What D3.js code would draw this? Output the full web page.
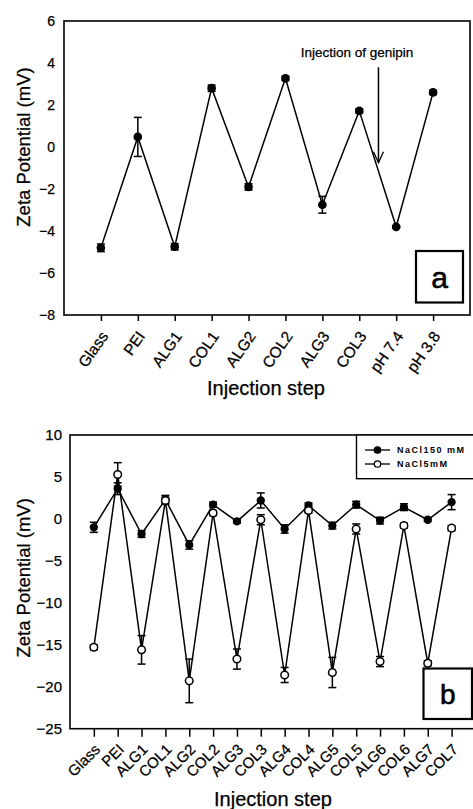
<!DOCTYPE html>
<html>
<head>
<meta charset="utf-8">
<script src="https://cdn.jsdelivr.net/npm/d3@7"></script>
<style>
  html, body { margin: 0; padding: 0; background: #fff; }
  svg { display: block; }
  text { font-family: "Liberation Sans", Arial, sans-serif; fill: #000; stroke: #000; stroke-width: 0.25px; }
</style>
</head>
<body>
<script>
// ---- Panel a: single series, genipin cross-linking ----
const stepsA = ["Glass", "PEI", "ALG1", "COL1", "ALG2", "COL2", "ALG3", "COL3", "pH 7.4", "pH 3.8"];
const zetaA  = [-4.8, 0.48, -4.75, 2.8, -1.9, 3.27, -2.75, 1.72, -3.8, 2.6];
const errA   = [0.18, 0.93, 0.15, 0.15, 0.15, 0.1, 0.4, 0.1, 0.05, 0.1];
const ticksA = [-8, -6, -4, -2, 0, 2, 4, 6];

// ---- Panel b: two ionic strengths ----
const stepsB = ["Glass", "PEI", "ALG1", "COL1", "ALG2", "COL2", "ALG3", "COL3",
                "ALG4", "COL4", "ALG5", "COL5", "ALG6", "COL6", "ALG7", "COL7"];
const nacl150   = [-1.0, 3.6, -1.8, 2.3, -3.1, 1.7, -0.3, 2.2, -1.2, 1.6, -0.8, 1.7, -0.2, 1.4, -0.1, 2.0];
const nacl150Err = [0.6, 0.7, 0.4, 0.5, 0.5, 0.3, 0.2, 0.9, 0.5, 0.3, 0.4, 0.4, 0.4, 0.4, 0.2, 0.9];
const nacl5     = [-15.3, 5.3, -15.6, 2.2, -19.3, 0.7, -16.7, -0.1, -18.6, 1.0, -18.3, -1.2, -17.0, -0.8, -17.2, -1.1];
const nacl5Err  = [0.3, 1.4, 1.7, 0.4, 2.6, 0.3, 1.2, 0.6, 0.9, 0.3, 1.8, 0.6, 0.6, 0.3, 0.3, 0.3];
const ticksB = [-25, -20, -15, -10, -5, 0, 5, 10];
const legendLabels = ["NaCl150 mM", "NaCl5mM"];

const W = 473, H = 809;
const svg = d3.select("body").append("svg").attr("width", W).attr("height", H);

function errorBars(g, xs, vals, errs, y, cap) {
  vals.forEach((v, i) => {
    const x = xs(i + 1);
    g.append("line").attr("x1", x).attr("x2", x)
      .attr("y1", y(v - errs[i])).attr("y2", y(v + errs[i]))
      .attr("stroke", "#000").attr("stroke-width", 1.5);
    [v - errs[i], v + errs[i]].forEach(e => {
      g.append("line").attr("x1", x - cap).attr("x2", x + cap)
        .attr("y1", y(e)).attr("y2", y(e))
        .attr("stroke", "#000").attr("stroke-width", 1.5);
    });
  });
}

function series(g, xs, vals, y, filled, r) {
  const line = d3.line().x((d, i) => xs(i + 1)).y(d => y(d));
  g.append("path").datum(vals).attr("d", line)
    .attr("fill", "none").attr("stroke", "#000").attr("stroke-width", 1.5);
  g.selectAll(null).data(vals).enter().append("circle")
    .attr("cx", (d, i) => xs(i + 1)).attr("cy", d => y(d)).attr("r", r)
    .attr("fill", filled ? "#000" : "#fff")
    .attr("stroke", "#000").attr("stroke-width", 1.5);
}

function labelBox(g, x0, y0, x1, y1, txt, size) {
  g.append("rect").attr("x", x0).attr("y", y0).attr("width", x1 - x0).attr("height", y1 - y0)
    .attr("fill", "#fff").attr("stroke", "#000").attr("stroke-width", 2.2);
  g.append("text").attr("x", (x0 + x1) / 2).attr("y", (y0 + y1) / 2)
    .attr("text-anchor", "middle").attr("dy", "0.36em")
    .style("font-size", size + "px").style("stroke-width", "0.6px").text(txt);
}

// ================= Panel a =================
{
  const L = 64, R = 470, T = 21, B = 315;
  const x = d3.scaleLinear().domain([0, stepsA.length + 1]).range([L, R]);
  const y = d3.scaleLinear().domain([-8, 6]).range([B, T]);
  const g = svg.append("g");

  g.append("rect").attr("x", L).attr("y", T).attr("width", R - L).attr("height", B - T)
    .attr("fill", "none").attr("stroke", "#000").attr("stroke-width", 1.6);

  // y axis
  const ya = g.append("g").attr("transform", `translate(${L},0)`)
    .call(d3.axisLeft(y).tickValues(ticksA).tickSize(0).tickPadding(9).tickFormat(d3.format("d")));
  ya.select(".domain").remove();
  ya.selectAll("text").style("font-size", "14px").style("font-family", "Liberation Sans, Arial, sans-serif");

  // x axis
  const xa = g.append("g").attr("transform", `translate(0,${B})`)
    .call(d3.axisBottom(x).tickValues(d3.range(1, stepsA.length + 1)).tickSize(6)
      .tickFormat(i => stepsA[i - 1]));
  xa.select(".domain").remove();
  xa.selectAll("line").attr("stroke-width", 1.5);
  xa.selectAll("text")
    .style("font-size", "15.5px").style("font-family", "Liberation Sans, Arial, sans-serif")
    .attr("text-anchor", "end").attr("x", 0).attr("y", 0).attr("dy", "0.35em")
    .attr("transform", "translate(3,18) rotate(-55)");

  g.append("text").attr("transform", `translate(30,${y(0)}) rotate(-90)`)
    .attr("text-anchor", "middle").style("font-size", "18.5px").text("Zeta Potential (mV)");
  g.append("text").attr("x", 266).attr("y", 395)
    .attr("text-anchor", "middle").style("font-size", "20px").text("Injection step");

  series(g, x, zetaA, y, true, 3.6);
  errorBars(g, x, zetaA, errA, y, 4);

  // genipin annotation
  const ax = x(8.52);
  g.append("text").attr("x", 357).attr("y", 56.5).attr("text-anchor", "middle")
    .style("font-size", "13.5px").text("Injection of genipin");
  g.append("line").attr("x1", ax).attr("x2", ax).attr("y1", y(3.8)).attr("y2", y(-0.75))
    .attr("stroke", "#000").attr("stroke-width", 1.5);
  g.append("path")
    .attr("d", `M${ax - 5},${y(-0.75) - 11} L${ax},${y(-0.75)} L${ax + 5},${y(-0.75) - 11}`)
    .attr("fill", "none").attr("stroke", "#000").attr("stroke-width", 1.3);

  labelBox(g, 416, 251, 463, 302.5, "a", 30);
}

// ================= Panel b =================
{
  const L = 70, T = 435, B = 728.7;
  const step = 23.85;
  const R = L + step * (stepsB.length + 1);
  const x = d3.scaleLinear().domain([0, stepsB.length + 1]).range([L, R]);
  const y = d3.scaleLinear().domain([-25, 10]).range([B, T]);
  const g = svg.append("g");

  g.append("rect").attr("x", L).attr("y", T).attr("width", R - L).attr("height", B - T)
    .attr("fill", "none").attr("stroke", "#000").attr("stroke-width", 1.6);

  const ya = g.append("g").attr("transform", `translate(${L},0)`)
    .call(d3.axisLeft(y).tickValues(ticksB).tickSize(0).tickPadding(8).tickFormat(d3.format("d")));
  ya.select(".domain").remove();
  ya.selectAll("text").style("font-size", "15px").style("font-family", "Liberation Sans, Arial, sans-serif");

  const xa = g.append("g").attr("transform", `translate(0,${B})`)
    .call(d3.axisBottom(x).tickValues(d3.range(1, stepsB.length + 1)).tickSize(8)
      .tickFormat(i => stepsB[i - 1]));
  xa.select(".domain").remove();
  xa.selectAll("line").attr("stroke-width", 1.5);
  xa.selectAll("text")
    .style("font-size", "15px").style("font-family", "Liberation Sans, Arial, sans-serif")
    .attr("text-anchor", "end").attr("x", 0).attr("y", 0).attr("dy", "0.35em")
    .attr("transform", "translate(3,18) rotate(-45)");

  g.append("text").attr("transform", `translate(30,${(T + B) / 2 - 4}) rotate(-90)`)
    .attr("text-anchor", "middle").style("font-size", "18.5px").text("Zeta Potential (mV)");
  g.append("text").attr("x", 273).attr("y", 806)
    .attr("text-anchor", "middle").style("font-size", "20px").text("Injection step");

  series(g, x, nacl150, y, true, 3.4);
  errorBars(g, x, nacl150, nacl150Err, y, 4);
  errorBars(g, x, nacl5, nacl5Err, y, 4);
  series(g, x, nacl5, y, false, 3.8);

  // legend
  const lg = g.append("g");
  lg.append("rect").attr("x", 356.5).attr("y", T).attr("width", R - 356.5).attr("height", 478.7 - T)
    .attr("fill", "#fff").attr("stroke", "#000").attr("stroke-width", 1.4);
  legendLabels.forEach((lab, k) => {
    const ly = 450 + k * 14;
    lg.append("line").attr("x1", 365).attr("x2", 390).attr("y1", ly).attr("y2", ly)
      .attr("stroke", "#000").attr("stroke-width", 1.3);
    lg.append("circle").attr("cx", 377.5).attr("cy", ly).attr("r", 3.2)
      .attr("fill", k === 0 ? "#000" : "#fff").attr("stroke", "#000").attr("stroke-width", 1.3);
    lg.append("text").attr("x", 397).attr("y", ly).attr("dy", "0.35em")
      .style("font-size", "9px").style("font-weight", "bold").style("stroke-width", "0px")
      .style("letter-spacing", "1.5px").text(lab);
  });

  labelBox(g, 423.5, 668.5, 472, 719, "b", 28);
}
</script>
</body>
</html>
